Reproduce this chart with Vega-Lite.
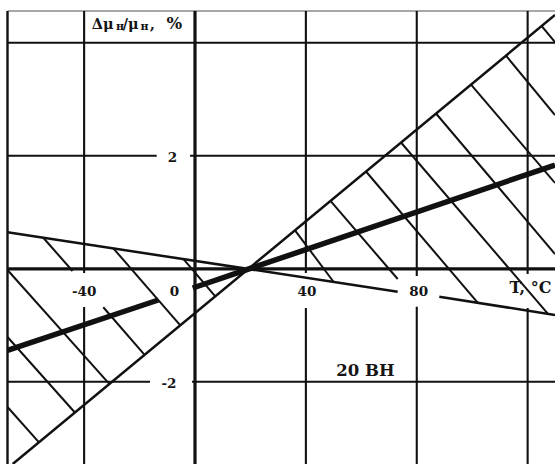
{
  "$schema": "https://vega.github.io/schema/vega-lite/v6.json",
  "width": 555,
  "height": 464,
  "autosize": {"type": "none"},
  "padding": 0,
  "background": "white",
  "config": {
    "view": {"stroke": null},
    "text": {"font": "DejaVu Serif", "fontWeight": "bold", "fill": "#151515", "baseline": "alphabetic"}
  },
  "datasets": {
    "frameLeft": [
      {"t": -67.64, "t2": -67.64, "dev": 4.563, "dev2": -3.455}
    ],
    "frameTop": [
      {"t": -67.64, "t2": 129.87, "dev": 4.563, "dev2": 4.563}
    ],
    "grid": [
      {"t": -40, "t2": -40, "dev": 4.563, "dev2": -0.074},
      {"t": -40, "t2": -40, "dev": -0.676, "dev2": -3.455},
      {"t": 40, "t2": 40, "dev": 4.563, "dev2": -0.074},
      {"t": 40, "t2": 40, "dev": -0.694, "dev2": -3.455},
      {"t": 80, "t2": 80, "dev": 4.563, "dev2": -0.127},
      {"t": 80, "t2": 80, "dev": -0.671, "dev2": -3.455},
      {"t": 120, "t2": 120, "dev": 4.563, "dev2": -0.092},
      {"t": 120, "t2": 120, "dev": -0.694, "dev2": -3.455},
      {"t": -67.64, "t2": 129.87, "dev": 4, "dev2": 4},
      {"t": -67.64, "t2": -13.82, "dev": 2, "dev2": 2},
      {"t": -1.8, "t2": 129.87, "dev": 2, "dev2": 2},
      {"t": -67.64, "t2": -16.23, "dev": -2, "dev2": -2},
      {"t": -1.08, "t2": 129.87, "dev": -2, "dev2": -2}
    ],
    "axes": [
      {"t": -67.64, "t2": 129.87, "dev": 0, "dev2": 0},
      {"t": 0, "t2": 0, "dev": 4.563, "dev2": -3.455}
    ],
    "bounds": [
      {"t": -65.76, "t2": 129.87, "dev": -3.455, "dev2": 4.492},
      {"t": -67.64, "t2": 73.12, "dev": 0.6455, "dev2": -0.4053},
      {"t": 88.13, "t2": 129.87, "dev": -0.4938, "dev2": -0.8177}
    ],
    "hatch": [
      {"t": -4.22, "t2": 7.32, "dev": 0.175, "dev2": -0.487},
      {"t": -29.47, "t2": -5.3, "dev": 0.363, "dev2": -1.0},
      {"t": -54.73, "t2": -44.19, "dev": 0.55, "dev2": -0.039},
      {"t": -33.08, "t2": -18.18, "dev": -0.681, "dev2": -1.522},
      {"t": -67.64, "t2": -30.92, "dev": -0.021, "dev2": -2.037},
      {"t": -67.64, "t2": -43.33, "dev": -1.207, "dev2": -2.543},
      {"t": -67.64, "t2": -56.28, "dev": -2.446, "dev2": -3.071},
      {"t": 36.08, "t2": 49.89, "dev": 0.681, "dev2": -0.225},
      {"t": 48.88, "t2": 73.12, "dev": 1.202, "dev2": -0.181},
      {"t": 61.69, "t2": 102.2, "dev": 1.722, "dev2": -0.612},
      {"t": 74.31, "t2": 127.34, "dev": 2.235, "dev2": -0.798},
      {"t": 86.94, "t2": 129.87, "dev": 2.749, "dev2": 0.262},
      {"t": 99.57, "t2": 129.87, "dev": 3.26, "dev2": 1.519},
      {"t": 112.19, "t2": 129.87, "dev": 3.773, "dev2": 2.722},
      {"t": 125.07, "t2": 129.87, "dev": 4.297, "dev2": 4.014}
    ],
    "nominal": [
      {"t": -67.64, "t2": -13.24, "dev": -1.444, "dev2": -0.552},
      {"t": -0.83, "t2": 129.87, "dev": -0.34, "dev2": 1.837}
    ],
    "tickLabels": [
      {"t": -40, "dev": -0.476, "label": "-40"},
      {"t": -7.4, "dev": -0.476, "label": "0"},
      {"t": 40.4, "dev": -0.476, "label": "40"},
      {"t": 80.7, "dev": -0.481, "label": "80"},
      {"t": -8.1, "dev": 1.885, "label": "2"},
      {"t": -9.4, "dev": -2.115, "label": "-2"}
    ]
  },
  "layer": [
    {
      "data": {"name": "frameTop"},
      "mark": {"type": "rule", "color": "#8a8a8a", "strokeWidth": 1.5},
      "encoding": {
        "x": {"field": "t", "type": "quantitative", "scale": {"domain": [-70.346, 129.87], "nice": false, "zero": false}, "axis": null},
        "y": {"field": "dev", "type": "quantitative", "scale": {"domain": [-3.4549, 4.7575], "nice": false, "zero": false}, "axis": null},
        "x2": {"field": "t2"}, "y2": {"field": "dev2"}
      }
    },
    {
      "data": {"name": "frameLeft"},
      "mark": {"type": "rule", "color": "#111111", "strokeWidth": 2.4},
      "encoding": {
        "x": {"field": "t", "type": "quantitative"}, "y": {"field": "dev", "type": "quantitative"},
        "x2": {"field": "t2"}, "y2": {"field": "dev2"}
      }
    },
    {
      "data": {"name": "grid"},
      "mark": {"type": "rule", "color": "#111111", "strokeWidth": 2.1},
      "encoding": {
        "x": {"field": "t", "type": "quantitative"}, "y": {"field": "dev", "type": "quantitative"},
        "x2": {"field": "t2"}, "y2": {"field": "dev2"}
      }
    },
    {
      "data": {"name": "axes"},
      "mark": {"type": "rule", "color": "#111111", "strokeWidth": 3.2},
      "encoding": {
        "x": {"field": "t", "type": "quantitative"}, "y": {"field": "dev", "type": "quantitative"},
        "x2": {"field": "t2"}, "y2": {"field": "dev2"}
      }
    },
    {
      "data": {"name": "bounds"},
      "mark": {"type": "rule", "color": "#111111", "strokeWidth": 2.5},
      "encoding": {
        "x": {"field": "t", "type": "quantitative"}, "y": {"field": "dev", "type": "quantitative"},
        "x2": {"field": "t2"}, "y2": {"field": "dev2"}
      }
    },
    {
      "data": {"name": "hatch"},
      "mark": {"type": "rule", "color": "#111111", "strokeWidth": 2},
      "encoding": {
        "x": {"field": "t", "type": "quantitative"}, "y": {"field": "dev", "type": "quantitative"},
        "x2": {"field": "t2"}, "y2": {"field": "dev2"}
      }
    },
    {
      "data": {"name": "nominal"},
      "mark": {"type": "rule", "color": "#111111", "strokeWidth": 5.5},
      "encoding": {
        "x": {"field": "t", "type": "quantitative"}, "y": {"field": "dev", "type": "quantitative"},
        "x2": {"field": "t2"}, "y2": {"field": "dev2"}
      }
    },
    {
      "data": {"name": "tickLabels"},
      "mark": {"type": "text", "fontSize": 13.5, "align": "center"},
      "encoding": {
        "x": {"field": "t", "type": "quantitative"}, "y": {"field": "dev", "type": "quantitative"},
        "text": {"field": "label"}
      }
    },
    {
      "data": {"values": [{"k": 1}]},
      "mark": {"type": "text", "text": "T, °C", "fontSize": 16, "align": "center"},
      "encoding": {"x": {"datum": 121.0, "type": "quantitative"}, "y": {"datum": -0.434, "type": "quantitative"}}
    },
    {
      "data": {"values": [{"k": 1}]},
      "mark": {"type": "text", "text": "20 ВН", "fontSize": 16.5, "align": "center"},
      "encoding": {"x": {"datum": 61.5, "type": "quantitative"}, "y": {"datum": -1.892, "type": "quantitative"}}
    },
    {
      "data": {"values": [{"k": 1}]},
      "mark": {"type": "text", "text": "Δμ", "fontSize": 14.5, "align": "left"},
      "encoding": {"x": {"datum": -37.27, "type": "quantitative"}, "y": {"datum": 4.239, "type": "quantitative"}}
    },
    {
      "data": {"values": [{"k": 1}]},
      "mark": {"type": "text", "text": "н", "fontSize": 11, "align": "left"},
      "encoding": {"x": {"datum": -28.5, "type": "quantitative"}, "y": {"datum": 4.228, "type": "quantitative"}}
    },
    {
      "data": {"values": [{"k": 1}]},
      "mark": {"type": "text", "text": "/μ", "fontSize": 14.5, "align": "left"},
      "encoding": {"x": {"datum": -26.1, "type": "quantitative"}, "y": {"datum": 4.239, "type": "quantitative"}}
    },
    {
      "data": {"values": [{"k": 1}]},
      "mark": {"type": "text", "text": "н", "fontSize": 11, "align": "left"},
      "encoding": {"x": {"datum": -19.7, "type": "quantitative"}, "y": {"datum": 4.228, "type": "quantitative"}}
    },
    {
      "data": {"values": [{"k": 1}]},
      "mark": {"type": "text", "text": ",", "fontSize": 15, "align": "left"},
      "encoding": {"x": {"datum": -16.3, "type": "quantitative"}, "y": {"datum": 4.239, "type": "quantitative"}}
    },
    {
      "data": {"values": [{"k": 1}]},
      "mark": {"type": "text", "text": "%", "fontSize": 16.5, "align": "left"},
      "encoding": {"x": {"datum": -10.3, "type": "quantitative"}, "y": {"datum": 4.239, "type": "quantitative"}}
    }
  ]
}
